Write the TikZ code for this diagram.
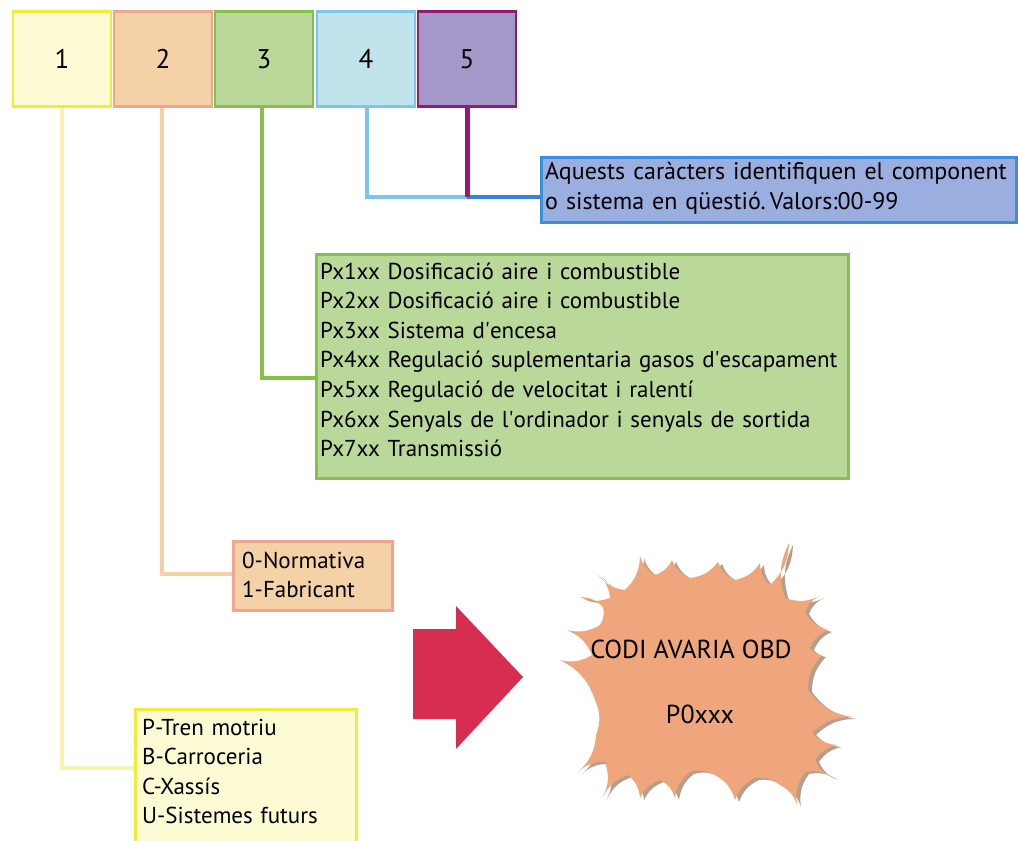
\documentclass[tikz,border=0pt]{standalone}
\usepackage{fontspec}
\setmainfont{PT Sans}
\definecolor{yfill}{HTML}{FDFBD3}
\definecolor{ydraw}{HTML}{F0EC3C}
\definecolor{yline}{HTML}{F6F4B4}
\definecolor{ofill}{HTML}{F4D1A6}
\definecolor{odraw}{HTML}{F0A58F}
\definecolor{oline}{HTML}{F5CFA5}
\definecolor{gfill}{HTML}{B9D89A}
\definecolor{gdraw}{HTML}{86C04A}
\definecolor{cfill}{HTML}{C1E3EC}
\definecolor{cdraw}{HTML}{7DC4EE}
\definecolor{pfill}{HTML}{A398C8}
\definecolor{pdraw}{HTML}{951A77}
\definecolor{bfill}{HTML}{9AAEE0}
\definecolor{bdraw}{HTML}{3A8EE0}
\definecolor{bline}{HTML}{2F86D6}
\definecolor{arrowred}{HTML}{D72D50}
\definecolor{burst}{HTML}{F0A67C}
\definecolor{burstshadow}{HTML}{B69E8A}
\newcommand{\apos}{\textquotesingle}
\begin{document}
\begin{tikzpicture}[x=1pt,y=-1pt,
  digitbox/.style={draw, line width=2.5pt, minimum width=98pt, minimum height=95pt, inner sep=0pt, font=\fontsize{27}{30}\selectfont},
  panel/.style={draw, line width=2.5pt, anchor=north west, inner sep=0pt},
  listtext/.style={anchor=base west, inner sep=0pt, align=left, font=\fontsize{23}{29.6}\selectfont},
  bursttext/.style={anchor=base, inner sep=0pt, font=\fontsize{26}{30}\selectfont},
  conn/.style={line width=4.5pt},
  cv/.style={bend right=22}
]
\useasboundingbox (0,0) rectangle (1018,841);
% top code boxes
\node[digitbox, fill=yfill, draw=ydraw] (b1) at (62,59) {1};
\node[digitbox, fill=ofill, draw=odraw] (b2) at (163,59) {2};
\node[digitbox, fill=gfill, draw=gdraw] (b3) at (264,59) {3};
\node[digitbox, fill=cfill, draw=cdraw] (b4) at (366,59) {4};
\node[digitbox, fill=pfill, draw=pdraw] (b5) at (467,59) {5};
% panels
\node[panel, fill=bfill, draw=bdraw, minimum width=475pt, minimum height=65pt] (blue) at (540,156) {};
\node[listtext, font=\fontsize{24}{30}\selectfont, text width=470pt] (bluet) at (545,179)
  {Aquests caràcters identifiquen el component\\o sistema en qüestió.\,Valors:00-99};
\node[panel, fill=gfill, draw=gdraw, minimum width=532pt, minimum height=224pt] (green) at (315,253) {};
\node[listtext, text width=520pt] (greent) at (320,279)
  {Px1xx Dosificació aire i combustible\\
   Px2xx Dosificació aire i combustible\\
   Px3xx Sistema d\apos encesa\\
   Px4xx Regulació suplementaria gasos d\apos escapament\\
   Px5xx Regulació de velocitat i ralentí\\
   Px6xx Senyals de l\apos ordinador i senyals de sortida\\
   Px7xx Transmissió};
\node[panel, fill=ofill, draw=odraw, minimum width=159pt, minimum height=69pt] (orange) at (232,540) {};
\node[listtext, text width=145pt] (oranget) at (242,568) {0-Normativa\\1-Fabricant};
\node[panel, fill=yfill, draw=ydraw, minimum width=221pt, minimum height=160pt] (yellow) at (134,708) {};
\node[listtext, text width=205pt] (yellowt) at (142,735)
  {P-Tren motriu\\B-Carroceria\\C-Xassís\\U-Sistemes futurs};
% connectors
\coordinate (k1) at (62,768);
\coordinate (k2) at (162,574);
\coordinate (k3) at (262,378);
\coordinate (k4) at (367,197);
\coordinate (k5) at (467,197);
\draw[conn, yline, line width=4pt] (b1.south -| k1) -- (k1) -- (k1 -| yellow.west);
\draw[conn, oline] (b2.south -| k2) -- (k2) -- (k2 -| orange.west);
\draw[conn, gdraw] (b3.south -| k3) -- (k3) -- (k3 -| green.west);
\draw[conn, cdraw, line width=4pt] (b4.south -| k4) -- (k4) -- (k5);
\draw[conn, bline, line width=4pt] (k5) -- (k5 -| blue.west);
\draw[conn, pdraw, line width=5pt] (b5.south -| k5) -- (k5);
% big arrow
\fill[arrowred] (413,629) -- (456,629) -- (456,606) -- (523,677) -- (456,749) -- (456,719) -- (413,719) -- cycle;
% starburst
\def\burstpath{(603,607) to[cv] (580,597) to[cv] (610,598) to[cv] (598,575) to[cv] (625,590) to[cv] (640,556) to[cv] (655,575) to[cv] (672,560) to[cv] (690,578) to[cv] (718,562) to[cv] (735,580) to[cv] (760,563) to[cv] (770,585) to[cv] (789,543) to[cv] (785,598) to[cv] (820,596) to[cv] (805,612) to[cv] (828,630) to[cv] (810,648) to[cv] (822,655) to[cv] (808,690) to[cv] (852,717) to[cv] (812,733) to[cv] (838,745) to[cv] (815,760) to[cv] (834,778) to[cv] (805,772) to[cv] (797,805) to[cv] (780,785) to[cv] (755,778) to[cv] (735,800) to[cv] (715,775) to[cv] (690,772) to[cv] (675,798) to[cv] (660,780) to[cv] (640,798) to[cv] (628,775) to[cv] (603,797) to[cv] (605,762) to[cv] (578,772) to[cv] (596,735) to[cv] (595,700) to[cv] (560,660) to[cv] (592,655) to[cv] (567,630) to[cv] (600,625) to[cv] (603,607) -- cycle}
\fill[burstshadow, xshift=4pt, yshift=-2pt] \burstpath;
\fill[burst] \burstpath;
\node[bursttext] (codi) at (691,658) {CODI AVARIA OBD};
\node[bursttext] (pcode) at (700,723) {P0xxx};
\end{tikzpicture}
\end{document}
